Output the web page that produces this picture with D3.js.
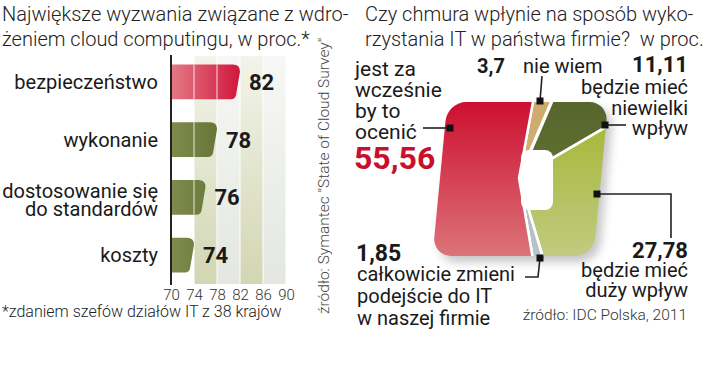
<!DOCTYPE html>
<html>
<head>
<meta charset="utf-8">
<script src="https://cdn.jsdelivr.net/npm/d3@7"></script>
<style>
  body { margin: 0; background: #fff; }
  svg { display: block; font-family: Roboto, "Open Sans", sans-serif; }
</style>
</head>
<body>
<svg id="chart" width="720" height="376"></svg>
<script>
// bar chart data
const categories = ["bezpieczeństwo", "wykonanie", "dostosowanie się|do standardów", "koszty"];
const barValues = [82, 78, 76, 74];
const barTicks = [70, 74, 78, 82, 86, 90];

// pie data (clockwise from the top)
const pieLabels = ["nie wiem", "będzie mieć niewielki wpływ", "będzie mieć duży wpływ", "całkowicie zmieni podejście do IT w naszej firmie", "jest za wcześnie by to ocenić"];
const pieValues = [3.7, 11.11, 27.78, 1.85, 55.56];
const pieNumbers = ["3,7", "11,11", "27,78", "1,85", "55,56"];

const svg = d3.select("#chart");
const defs = svg.append("defs");

// ---------- titles ----------
const light = 300;
svg.append("text").attr("x", 2).attr("y", 21).attr("font-size", 20).attr("font-weight", light).attr("fill", "#222")
  .text("Największe wyzwania związane z wdro-");
svg.append("text").attr("x", 2).attr("y", 46).attr("font-size", 20).attr("font-weight", light).attr("fill", "#222")
  .text("żeniem cloud computingu, w proc.*");
svg.append("text").attr("x", 365).attr("y", 21).attr("font-size", 20).attr("font-weight", light).attr("fill", "#222")
  .text("Czy chmura wpłynie na sposób wyko-");
svg.append("text").attr("x", 365).attr("y", 46).attr("font-size", 20).attr("font-weight", light).attr("fill", "#222")
  .text("rzystania IT w państwa firmie?\u00a0\u00a0w proc.");

// ---------- bar chart ----------
const x = d3.scaleLinear().domain([70, 90]).range([171, 286]);
const y = d3.scaleBand().domain(categories).range([53, 284]).paddingInner(0.4).paddingOuter(0.2);

// background columns
const bandTop = 56, bandBottom = 284;
[["olive", "#f3f4ea", "#d2d6b2"], ["grey", "#f7f8f5", "#e3e6e1"]].forEach(([id, c0, c1]) => {
  const g = defs.append("linearGradient").attr("id", "band-" + id)
    .attr("gradientUnits", "userSpaceOnUse").attr("x1", 0).attr("x2", 0).attr("y1", bandTop).attr("y2", bandBottom);
  g.append("stop").attr("offset", 0).attr("stop-color", c0);
  g.append("stop").attr("offset", 1).attr("stop-color", c1);
});
const bands = d3.pairs(barTicks).slice(1);
svg.append("g").selectAll("rect").data(bands).enter().append("rect")
  .attr("x", d => x(d[0]) + 0.5)
  .attr("width", d => x(d[1]) - x(d[0]) - 1)
  .attr("y", bandTop).attr("height", bandBottom - bandTop)
  .attr("fill", (d, i) => i % 2 === 0 ? "url(#band-olive)" : "url(#band-grey)");

// bar gradients
[["red", "#e47a85", "#d0173c"], ["olive", "#7f8c4d", "#5b6a2b"]].forEach(([id, c0, c1]) => {
  const g = defs.append("linearGradient").attr("id", "bar-" + id)
    .attr("gradientUnits", "userSpaceOnUse").attr("x1", x(70)).attr("x2", x(82)).attr("y1", 0).attr("y2", 0);
  g.append("stop").attr("offset", 0).attr("stop-color", c0);
  g.append("stop").attr("offset", 1).attr("stop-color", c1);
});

function barPath(v, cat) {
  const x0 = x(70), x1 = x(v), y0 = y(cat), h = y.bandwidth();
  const r = 7;
  return `M${x0},${y0} H${x1 - r} Q${x1},${y0} ${x1},${y0 + r} L${x1 - 4},${y0 + h - 4} Q${x1 - 5},${y0 + h} ${x1 - 9},${y0 + h} H${x0} Z`;
}

const bars = svg.append("g");
categories.forEach((cat, i) => {
  const v = barValues[i];
  bars.append("path").attr("d", barPath(v, cat)).attr("fill", i === 0 ? "url(#bar-red)" : "url(#bar-olive)");
  barTicks.filter(t => t > 70 && t < v - 1).forEach(t => {
    bars.append("line").attr("x1", x(t)).attr("x2", x(t))
      .attr("y1", y(cat)).attr("y2", y(cat) + y.bandwidth())
      .attr("stroke", "#fff").attr("stroke-opacity", 0.55).attr("stroke-width", 1.5);
  });
  bars.append("text").attr("x", x(v) + 9).attr("y", y(cat) + y.bandwidth() / 2 + 8)
    .attr("font-size", 22).attr("font-weight", 700).attr("fill", "#1a1a1a").text(v);
});

// category labels
categories.forEach(cat => {
  const lines = cat.split("|");
  const cy = y(cat) + y.bandwidth() / 2;
  const t = svg.append("text").attr("text-anchor", "end").attr("font-size", 20).attr("fill", "#1a1a1a");
  if (lines.length === 1) {
    t.append("tspan").attr("x", 158).attr("y", cy + 7).text(lines[0]);
  } else {
    lines.forEach((l, j) => t.append("tspan").attr("x", 158).attr("y", cy + 1 + j * 18).text(l));
  }
});

// axis
svg.append("line").attr("x1", x(70)).attr("x2", x(70)).attr("y1", 55).attr("y2", 285)
  .attr("stroke", "#222").attr("stroke-width", 2);
const xAxis = d3.axisBottom(x).tickValues(barTicks).tickSize(0).tickPadding(0);
const ax = svg.append("g").attr("transform", "translate(0,287)").call(xAxis);
ax.select(".domain").remove();
ax.selectAll("text").attr("font-size", 15).attr("font-weight", light).attr("fill", "#333")
  .attr("font-family", "Roboto, sans-serif").attr("dy", "0.85em");

svg.append("text").attr("x", 2).attr("y", 317).attr("font-size", 16).attr("font-weight", light).attr("fill", "#222")
  .text("*zdaniem szefów działów IT z 38 krajów");

svg.append("text").attr("transform", "translate(329,314) rotate(-90)")
  .attr("font-size", 15.5).attr("font-weight", light).attr("fill", "#444")
  .text("źródło: Symantec \"State of Cloud Survey\"");

// ---------- pie ----------
const cx = 519, cy = 178;
const sliceColors = [
  ["#cdaa6c", "#d7ba84"],
  ["#56652b", "#6f7c40"],
  ["#a3b42f", "#c0cb80"],
  ["#a6b3b8", "#b8c3c7"],
  ["#cd0f30", "#dc7479"]
];
sliceColors.forEach((c, i) => {
  const g = defs.append("linearGradient").attr("id", "slice-" + i)
    .attr("gradientUnits", "userSpaceOnUse").attr("x1", 0).attr("x2", 0).attr("y1", -76).attr("y2", 78);
  g.append("stop").attr("offset", 0).attr("stop-color", c[0]);
  g.append("stop").attr("offset", 1).attr("stop-color", c[1]);
});

const shape = { x: -79, y: -76, w: 161, h: 154, r: 19 };
defs.append("clipPath").attr("id", "pie-clip").append("rect")
  .attr("x", shape.x).attr("y", shape.y).attr("width", shape.w).attr("height", shape.h).attr("rx", shape.r);
defs.append("filter").attr("id", "shadow").attr("x", "-20%").attr("y", "-20%").attr("width", "150%").attr("height", "150%")
  .append("feGaussianBlur").attr("stdDeviation", 5);

const pg = svg.append("g").attr("transform", `translate(${cx},${cy}) skewX(-5.5)`);
pg.append("rect").attr("x", shape.x + 6).attr("y", shape.y + 6).attr("width", shape.w).attr("height", shape.h).attr("rx", shape.r)
  .attr("fill", "#000").attr("opacity", 0.22).attr("filter", "url(#shadow)");

const rot = 5 * Math.PI / 180;
const arcs = d3.pie().sort(null).value(d => d).startAngle(rot).endAngle(2 * Math.PI + rot)(pieValues);
const arc = d3.arc().innerRadius(0).outerRadius(220);
pg.append("g").attr("clip-path", "url(#pie-clip)").selectAll("path").data(arcs).enter().append("path")
  .attr("d", arc)
  .attr("fill", (d, i) => `url(#slice-${i})`)
  .attr("stroke", "#fff").attr("stroke-width", (d, i) => i === 1 ? 3.5 : 2.5).attr("stroke-linejoin", "round");

// hole
svg.append("rect").attr("x", 521).attr("y", 150).attr("width", 32).attr("height", 60).attr("rx", 8).attr("fill", "#fff");

// callouts: leader points and squares
const callouts = [
  { pts: [[542, 76], [540, 101]], sq: [540, 101] },
  { pts: [[605, 125], [626, 125]], sq: [605, 125] },
  { pts: [[597, 194], [671, 194], [671, 238]], sq: [597, 194] },
  { pts: [[540, 258], [538, 277], [525, 277]], sq: [540, 258] },
  { pts: [[423, 128], [450, 128]], sq: [450, 128] }
];
const cg = svg.append("g");
callouts.forEach(c => {
  cg.append("path").attr("d", d3.line()(c.pts)).attr("fill", "none").attr("stroke", "#222").attr("stroke-width", 1.6);
  cg.append("rect").attr("x", c.sq[0] - 3.5).attr("y", c.sq[1] - 3.5).attr("width", 7).attr("height", 7).attr("fill", "#111");
});

// pie labels
function lines(xp, ys, arr, anchor, size, weight, fill) {
  const t = svg.append("text").attr("text-anchor", anchor).attr("font-size", size)
    .attr("font-weight", weight).attr("fill", fill);
  arr.forEach((s, j) => t.append("tspan").attr("x", xp).attr("y", ys[j]).text(s));
}
const ink = "#1a1a1a";
// jest za wcześnie
lines(355, [76, 97, 118, 139], ["jest za", "wcześnie", "by to", "ocenić"], "start", 21, 400, ink);
svg.append("text").attr("x", 354).attr("y", 169).attr("font-size", 32).attr("font-weight", 700).attr("fill", "#c8102e")
  .text(pieNumbers[4]);
// nie wiem
svg.append("text").attr("x", 477).attr("y", 73).attr("font-size", 20).attr("font-weight", 700).attr("fill", ink).text(pieNumbers[0]);
svg.append("text").attr("x", 523).attr("y", 73).attr("font-size", 20).attr("fill", ink).text(pieLabels[0]);
// niewielki
svg.append("text").attr("x", 688).attr("y", 72).attr("text-anchor", "end").attr("font-size", 22).attr("font-weight", 700).attr("fill", ink).text(pieNumbers[1]);
lines(688, [94, 115, 135], ["będzie mieć", "niewielki", "wpływ"], "end", 20, 400, ink);
// duży
svg.append("text").attr("x", 688).attr("y", 258).attr("text-anchor", "end").attr("font-size", 22).attr("font-weight", 700).attr("fill", ink).text(pieNumbers[2]);
lines(688, [277, 297], ["będzie mieć", "duży wpływ"], "end", 20, 400, ink);
// całkowicie
svg.append("text").attr("x", 356).attr("y", 261).attr("font-size", 23).attr("font-weight", 700).attr("fill", ink).text(pieNumbers[3]);
lines(357, [281, 303, 325], ["całkowicie zmieni", "podejście do IT", "w naszej firmie"], "start", 20, 400, ink);

svg.append("text").attr("x", 687).attr("y", 320).attr("text-anchor", "end").attr("font-size", 15.5).attr("font-weight", light).attr("fill", "#333")
  .text("źródło: IDC Polska, 2011");
</script>
</body>
</html>
